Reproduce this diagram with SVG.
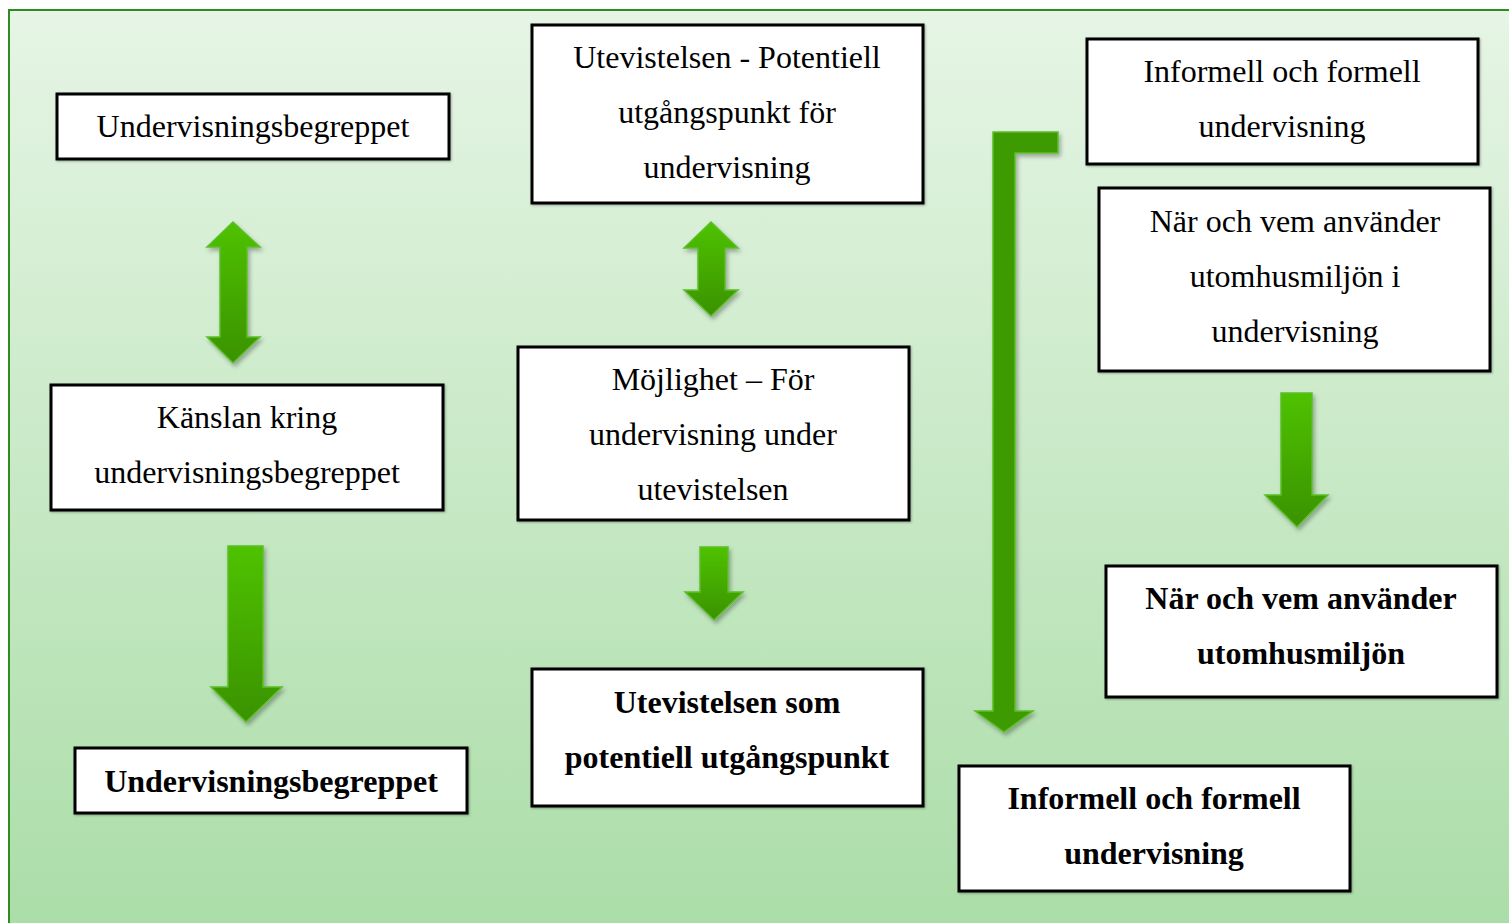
<svg xmlns="http://www.w3.org/2000/svg" width="1509" height="923" viewBox="0 0 1509 923">
<defs>
<linearGradient id="bg" x1="0" y1="0" x2="0" y2="1">
<stop offset="0" stop-color="#e6f5e5"/>
<stop offset="1" stop-color="#aadda7"/>
</linearGradient>
<linearGradient id="ag" x1="0" y1="0" x2="0" y2="1">
<stop offset="0" stop-color="#4fc200"/>
<stop offset="1" stop-color="#3a9200"/>
</linearGradient>
<filter id="sh" x="-20%" y="-20%" width="140%" height="140%">
<feDropShadow dx="2" dy="3" stdDeviation="2" flood-color="#000" flood-opacity="0.3"/>
</filter>
<filter id="bsh" x="-5%" y="-5%" width="110%" height="115%">
<feDropShadow dx="1" dy="1" stdDeviation="1" flood-color="#000" flood-opacity="0.3"/>
</filter>
</defs>
<style>
.box{fill:#fff;stroke:#000;stroke-width:3;filter:url(#bsh)}
.t{font-family:"Liberation Serif","Times New Roman",serif;font-size:32px;fill:#000;text-anchor:middle}
.b{font-weight:bold}
.arr{fill:url(#ag);stroke:#5cbf2a;stroke-width:1.5;filter:url(#sh)}
.arrL{fill:#3e9a00;stroke:#5cbf2a;stroke-width:1.5;filter:url(#sh)}
</style>
<rect x="9" y="10" width="1510" height="930" fill="url(#bg)" stroke="#2f8c1f" stroke-width="2"/>

<g id="connectors">
<path class="arr" d="M233,222 L260,247 L247,247 L247,337 L260,337 L233,363 L207,337 L220,337 L220,247 L207,247 Z"/>
<path class="arr" d="M711,222 L738,248 L725,248 L725,290 L738,290 L711,316 L684,290 L698,290 L698,248 L684,248 Z"/>
<path class="arrL" d="M993,132 L1058,132 L1058,153 L1015,153 L1015,711 L1033,711 L1004,732 L975,711 L993,711 Z"/>
<path class="arr" d="M228,546 L263,546 L263,687 L282,687 L246,722 L211,687 L228,687 Z"/>
<path class="arr" d="M700,547 L728,547 L728,592 L743,592 L714,620 L685,592 L700,592 Z"/>
<path class="arr" d="M1281,393 L1312,393 L1312,495 L1328,495 L1297,527 L1265,495 L1281,495 Z"/>
</g>

<g id="n1"><rect class="box" x="57" y="94" width="392" height="65"/><text class="t" x="253" y="137">Undervisningsbegreppet</text></g>
<g id="n2"><rect class="box" x="51" y="385" width="392" height="125"/><text class="t" x="247" y="428">Känslan kring</text><text class="t" x="247" y="483">undervisningsbegreppet</text></g>
<g id="n3"><rect class="box" x="75" y="748" width="392" height="65"/><text class="t b" x="271" y="792">Undervisningsbegreppet</text></g>
<g id="n4"><rect class="box" x="532" y="25" width="391" height="178"/><text class="t" x="727" y="68">Utevistelsen - Potentiell</text><text class="t" x="727" y="123">utgångspunkt för</text><text class="t" x="727" y="178">undervisning</text></g>
<g id="n5"><rect class="box" x="518" y="347" width="391" height="173"/><text class="t" x="713" y="390">Möjlighet – För</text><text class="t" x="713" y="445">undervisning under</text><text class="t" x="713" y="500">utevistelsen</text></g>
<g id="n6"><rect class="box" x="532" y="669" width="391" height="137"/><text class="t b" x="727" y="713">Utevistelsen som</text><text class="t b" x="727" y="768">potentiell utgångspunkt</text></g>
<g id="n7"><rect class="box" x="1087" y="39" width="391" height="125"/><text class="t" x="1282" y="82">Informell och formell</text><text class="t" x="1282" y="137">undervisning</text></g>
<g id="n8"><rect class="box" x="1099" y="188" width="391" height="183"/><text class="t" x="1295" y="232">När och vem använder</text><text class="t" x="1295" y="287">utomhusmiljön i</text><text class="t" x="1295" y="342">undervisning</text></g>
<g id="n9"><rect class="box" x="1106" y="566" width="391" height="131"/><text class="t b" x="1301" y="609">När och vem använder</text><text class="t b" x="1301" y="664">utomhusmiljön</text></g>
<g id="n10"><rect class="box" x="959" y="766" width="391" height="125"/><text class="t b" x="1154" y="809">Informell och formell</text><text class="t b" x="1154" y="864">undervisning</text></g>
</svg>
